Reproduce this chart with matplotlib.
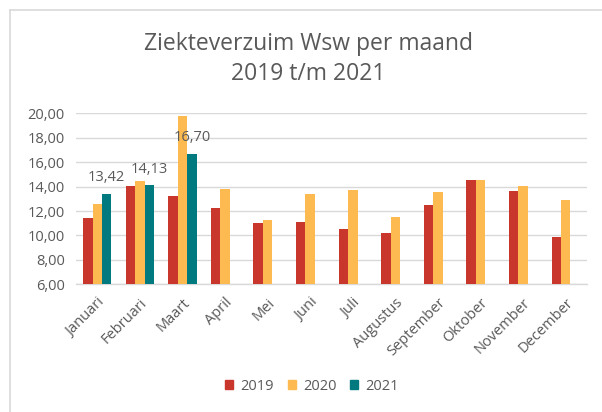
import matplotlib
matplotlib.use("Agg")
import matplotlib.pyplot as plt
from matplotlib.lines import Line2D
import numpy as np

months = ["Januari", "Februari", "Maart", "April", "Mei", "Juni", "Juli",
          "Augustus", "September", "Oktober", "November", "December"]
v2019 = [11.45, 14.05, 13.23, 12.27, 11.00, 11.08, 10.55, 10.18, 12.50, 14.52, 13.61, 9.87]
v2020 = [12.55, 14.46, 19.81, 13.83, 11.29, 13.40, 13.70, 11.51, 13.53, 14.52, 14.05, 12.88]
v2021 = [13.42, 14.13, 16.70, np.nan, np.nan, np.nan, np.nan, np.nan, np.nan, np.nan, np.nan, np.nan]
years = ["2019", "2020", "2021"]
colors = ["#C9362B", "#FDBA50", "#00797F"]
yticks = [6, 8, 10, 12, 14, 16, 18, 20]

plt.rcParams['font.family'] = ['Open Sans', 'DejaVu Sans']
txt = "#595959"

fig = plt.figure(figsize=(6.02, 4.12), dpi=100)
W, H = 602, 412
ax = fig.add_axes([76 / W, 1 - 284.3 / H, (587 - 76) / W, (284.3 - 113.3) / H])

x = np.arange(len(months))
bw = 0.222
for i, (vals, c, lab) in enumerate(zip([v2019, v2020, v2021], colors, years)):
    ax.bar(x + (i - 1) * bw, np.array(vals) - 6, bottom=6, width=bw,
           color=c, label=lab, linewidth=0, zorder=3)
    if lab == "2021":
        for xi, v in zip(x, vals):
            if not np.isnan(v):
                ax.text(xi + (i - 1) * bw, v + 1.3,
                        f"{v:.2f}".replace(".", ","), ha="center", va="center",
                        fontsize=10.5, color=txt, zorder=4)

ax.set_xlim(-0.5, len(months) - 0.5)
ax.set_ylim(6, 20)
ax.set_yticks(yticks)
ax.set_yticklabels([f"{t:.2f}".replace(".", ",") for t in yticks], fontsize=10.5, color=txt)
ax.set_xticks(x)
ax.set_xticklabels(months, rotation=45, ha="right", rotation_mode="anchor",
                   fontsize=10.5, color=txt)
ax.tick_params(axis="both", length=0)
ax.tick_params(axis="x", pad=8)
ax.tick_params(axis="y", pad=8)
ax.grid(axis="y", color="#D9D9D9", linewidth=1, zorder=0)
for s in ["top", "right", "left"]:
    ax.spines[s].set_visible(False)
ax.spines["bottom"].set_color("#D9D9D9")
ax.spines["bottom"].set_linewidth(1)

fig.text(308 / W, 1 - 44 / H, "Ziekteverzuim Wsw per maand", ha="center", va="center",
         fontsize=16.5, color=txt)
fig.text(308 / W, 1 - 74 / H, "2019 t/m 2021", ha="center", va="center",
         fontsize=16.5, color=txt)

handles = [plt.Rectangle((0, 0), 1, 1, color=c) for c in colors]
fig.legend(handles, years, loc="center", bbox_to_anchor=(312 / W, 1 - 386 / H),
           ncol=3, frameon=False, fontsize=10.5, labelcolor=txt,
           handlelength=0.55, handleheight=0.55, handletextpad=0.5, columnspacing=0.95)

fig.add_artist(Line2D([9.5 / W, 9.5 / W], [0, 1 - 9.5 / H], transform=fig.transFigure,
                      color="#D9D9D9", linewidth=1.2))
fig.add_artist(Line2D([9.5 / W, 1], [1 - 9.5 / H, 1 - 9.5 / H], transform=fig.transFigure,
                      color="#D9D9D9", linewidth=1.2))

fig.savefig("out.png", dpi=100)
